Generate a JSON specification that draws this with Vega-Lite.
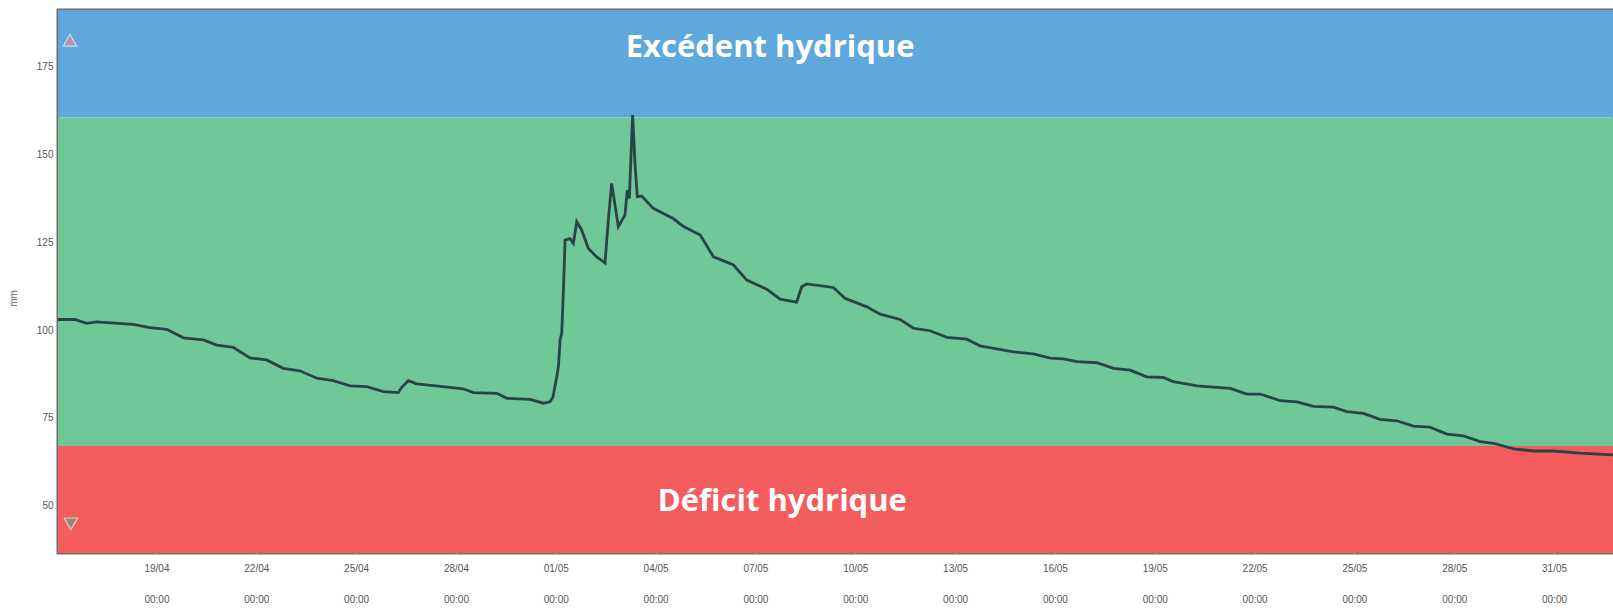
{
  "$schema": "https://vega.github.io/schema/vega-lite/v6.json",
  "autosize": "none",
  "width": 1555,
  "height": 543,
  "padding": {"left": 58, "top": 10, "right": 0, "bottom": 55},
  "background": "white",
  "config": {
    "view": {"stroke": "#6e6e6e", "strokeWidth": 3},
    "axis": {"labelFont": "Liberation Sans", "labelFontSize": 10, "labelColor": "#555555", "domain": false, "ticks": false, "grid": true, "gridColor": "white", "gridOpacity": 0.55, "gridWidth": 2}
  },
  "datasets": {
    "bands": [
      {"zone": "excedent", "low": 160.5, "high": 191, "start": "2016-04-16T01:00", "end": "2016-06-01T18:30"},
      {"zone": "normal", "low": 67, "high": 160.5, "start": "2016-04-16T01:00", "end": "2016-06-01T18:30"},
      {"zone": "deficit", "low": 36.6, "high": 67, "start": "2016-04-16T01:00", "end": "2016-06-01T18:30"}
    ],
    "series": [
      {"t": "2016-04-16T01:00", "mm": 103.0},
      {"t": "2016-04-16T03:36", "mm": 103.0},
      {"t": "2016-04-16T13:12", "mm": 103.0},
      {"t": "2016-04-16T21:36", "mm": 101.9},
      {"t": "2016-04-17T04:48", "mm": 102.3},
      {"t": "2016-04-18T07:12", "mm": 101.6},
      {"t": "2016-04-18T19:12", "mm": 100.7},
      {"t": "2016-04-19T07:26", "mm": 100.2},
      {"t": "2016-04-19T19:26", "mm": 97.8},
      {"t": "2016-04-20T09:50", "mm": 97.2},
      {"t": "2016-04-20T19:26", "mm": 95.7},
      {"t": "2016-04-21T07:26", "mm": 95.1},
      {"t": "2016-04-21T19:26", "mm": 92.1},
      {"t": "2016-04-22T07:26", "mm": 91.5},
      {"t": "2016-04-22T19:26", "mm": 89.1},
      {"t": "2016-04-23T07:26", "mm": 88.4},
      {"t": "2016-04-23T19:40", "mm": 86.3},
      {"t": "2016-04-24T07:40", "mm": 85.6},
      {"t": "2016-04-24T19:40", "mm": 84.1},
      {"t": "2016-04-25T07:40", "mm": 83.9},
      {"t": "2016-04-25T19:40", "mm": 82.5},
      {"t": "2016-04-26T06:29", "mm": 82.2},
      {"t": "2016-04-26T08:53", "mm": 83.7},
      {"t": "2016-04-26T13:40", "mm": 85.6},
      {"t": "2016-04-26T19:40", "mm": 84.7},
      {"t": "2016-04-27T07:40", "mm": 84.2},
      {"t": "2016-04-28T05:17", "mm": 83.3},
      {"t": "2016-04-28T12:29", "mm": 82.2},
      {"t": "2016-04-29T05:31", "mm": 82.0},
      {"t": "2016-04-29T12:43", "mm": 80.6},
      {"t": "2016-04-30T05:31", "mm": 80.3},
      {"t": "2016-04-30T15:07", "mm": 79.2},
      {"t": "2016-04-30T19:55", "mm": 79.6},
      {"t": "2016-04-30T22:00", "mm": 81.0},
      {"t": "2016-05-01T00:43", "mm": 86.7},
      {"t": "2016-05-01T01:55", "mm": 89.6},
      {"t": "2016-05-01T03:07", "mm": 97.2},
      {"t": "2016-05-01T04:19", "mm": 99.1},
      {"t": "2016-05-01T05:31", "mm": 111.4},
      {"t": "2016-05-01T06:43", "mm": 125.6},
      {"t": "2016-05-01T10:19", "mm": 126.0},
      {"t": "2016-05-01T12:43", "mm": 124.6},
      {"t": "2016-05-01T15:07", "mm": 130.8},
      {"t": "2016-05-01T18:43", "mm": 128.4},
      {"t": "2016-05-01T23:31", "mm": 123.2},
      {"t": "2016-05-02T05:31", "mm": 120.8},
      {"t": "2016-05-02T11:31", "mm": 119.1},
      {"t": "2016-05-02T13:55", "mm": 131.3},
      {"t": "2016-05-02T16:19", "mm": 141.7},
      {"t": "2016-05-02T21:07", "mm": 129.4},
      {"t": "2016-05-03T01:55", "mm": 132.7},
      {"t": "2016-05-03T03:36", "mm": 139.8},
      {"t": "2016-05-03T05:02", "mm": 137.4},
      {"t": "2016-05-03T07:26", "mm": 161.1},
      {"t": "2016-05-03T09:07", "mm": 147.4},
      {"t": "2016-05-03T10:48", "mm": 137.9},
      {"t": "2016-05-03T13:55", "mm": 138.1},
      {"t": "2016-05-03T22:19", "mm": 134.6},
      {"t": "2016-05-04T12:43", "mm": 131.7},
      {"t": "2016-05-04T19:55", "mm": 129.5},
      {"t": "2016-05-05T08:10", "mm": 127.0},
      {"t": "2016-05-05T17:46", "mm": 120.8},
      {"t": "2016-05-06T08:10", "mm": 118.5},
      {"t": "2016-05-06T17:46", "mm": 114.2},
      {"t": "2016-05-07T08:10", "mm": 111.6},
      {"t": "2016-05-07T17:46", "mm": 108.8},
      {"t": "2016-05-08T05:46", "mm": 107.9},
      {"t": "2016-05-08T09:22", "mm": 112.3},
      {"t": "2016-05-08T12:58", "mm": 113.1},
      {"t": "2016-05-09T08:10", "mm": 112.1},
      {"t": "2016-05-09T16:34", "mm": 109.0},
      {"t": "2016-05-10T08:24", "mm": 106.6},
      {"t": "2016-05-10T18:00", "mm": 104.5},
      {"t": "2016-05-11T08:24", "mm": 103.0},
      {"t": "2016-05-11T18:00", "mm": 100.5},
      {"t": "2016-05-12T06:00", "mm": 99.8},
      {"t": "2016-05-12T18:00", "mm": 97.9},
      {"t": "2016-05-13T08:24", "mm": 97.4},
      {"t": "2016-05-13T18:00", "mm": 95.5},
      {"t": "2016-05-14T18:00", "mm": 93.8},
      {"t": "2016-05-15T08:24", "mm": 93.2},
      {"t": "2016-05-15T20:38", "mm": 92.0},
      {"t": "2016-05-16T06:14", "mm": 91.8},
      {"t": "2016-05-16T15:50", "mm": 91.0},
      {"t": "2016-05-17T06:14", "mm": 90.7},
      {"t": "2016-05-17T18:14", "mm": 89.1},
      {"t": "2016-05-18T06:14", "mm": 88.6},
      {"t": "2016-05-18T18:14", "mm": 86.7},
      {"t": "2016-05-19T06:14", "mm": 86.5},
      {"t": "2016-05-19T13:26", "mm": 85.3},
      {"t": "2016-05-20T06:29", "mm": 84.1},
      {"t": "2016-05-21T06:29", "mm": 83.4},
      {"t": "2016-05-21T18:29", "mm": 81.8},
      {"t": "2016-05-22T04:05", "mm": 81.8},
      {"t": "2016-05-22T18:29", "mm": 79.9},
      {"t": "2016-05-23T06:29", "mm": 79.6},
      {"t": "2016-05-23T18:29", "mm": 78.3},
      {"t": "2016-05-24T08:53", "mm": 78.1},
      {"t": "2016-05-24T18:29", "mm": 76.8},
      {"t": "2016-05-25T06:29", "mm": 76.3},
      {"t": "2016-05-25T18:29", "mm": 74.6},
      {"t": "2016-05-26T06:29", "mm": 74.2},
      {"t": "2016-05-26T18:29", "mm": 72.7},
      {"t": "2016-05-27T06:29", "mm": 72.4},
      {"t": "2016-05-27T18:43", "mm": 70.4},
      {"t": "2016-05-28T06:43", "mm": 69.9},
      {"t": "2016-05-28T18:43", "mm": 68.3},
      {"t": "2016-05-29T04:19", "mm": 67.8},
      {"t": "2016-05-29T18:43", "mm": 66.2},
      {"t": "2016-05-30T09:07", "mm": 65.6},
      {"t": "2016-05-30T23:31", "mm": 65.6},
      {"t": "2016-05-31T18:43", "mm": 65.0},
      {"t": "2016-06-01T18:29", "mm": 64.5}
    ],
    "labels": [
      {"t": "2016-05-07T10:34", "mm": 177.6, "label": "Excédent hydrique"},
      {"t": "2016-05-07T19:26", "mm": 48.6, "label": "Déficit hydrique"}
    ],
    "arrows": [
      {"t": "2016-04-16T09:36", "mm": 182.4, "dir": "up"},
      {"t": "2016-04-16T10:19", "mm": 44.9, "dir": "down"}
    ]
  },
  "layer": [
    {
      "data": {"name": "bands"},
      "mark": {"type": "rect"},
      "encoding": {
        "x": {"field": "start", "type": "temporal", "scale": {"domain": [{"year": 2016, "month": 4, "date": 16, "hours": 1}, {"year": 2016, "month": 6, "date": 1, "hours": 18, "minutes": 30}], "nice": false},
          "axis": {"title": null,
            "values": [
              {"year": 2016, "month": 4, "date": 19}, {"year": 2016, "month": 4, "date": 22}, {"year": 2016, "month": 4, "date": 25}, {"year": 2016, "month": 4, "date": 28},
              {"year": 2016, "month": 5, "date": 1}, {"year": 2016, "month": 5, "date": 4}, {"year": 2016, "month": 5, "date": 7}, {"year": 2016, "month": 5, "date": 10},
              {"year": 2016, "month": 5, "date": 13}, {"year": 2016, "month": 5, "date": 16}, {"year": 2016, "month": 5, "date": 19}, {"year": 2016, "month": 5, "date": 22},
              {"year": 2016, "month": 5, "date": 25}, {"year": 2016, "month": 5, "date": 28}, {"year": 2016, "month": 5, "date": 31}
            ],
            "labelExpr": "[timeFormat(datum.value, '%d/%m'), timeFormat(datum.value, '%H:%M')]", "labelLineHeight": 31, "labelPadding": 10, "labelBaseline": "top"}},
        "x2": {"field": "end"},
        "y": {"field": "low", "type": "quantitative", "scale": {"domain": [36.6, 191], "nice": false, "zero": false},
          "axis": {"title": "mm", "values": [50, 75, 100, 125, 150, 175], "labelPadding": 5, "titleFont": "Liberation Sans", "titleFontSize": 10, "titleFontWeight": "normal", "titleColor": "#666666", "titleX": -40, "titleY": 288}},
        "y2": {"field": "high"},
        "fill": {"field": "zone", "type": "nominal", "scale": {"domain": ["excedent", "normal", "deficit"], "range": ["#5ea8dc", "#70c797", "#f35d5d"]}, "legend": null}
      }
    },
    {
      "data": {"name": "series"},
      "mark": {"type": "line", "color": "#2a4349", "strokeWidth": 2.8, "clip": true, "interpolate": "linear"},
      "encoding": {
        "x": {"field": "t", "type": "temporal"},
        "y": {"field": "mm", "type": "quantitative"}
      }
    },
    {
      "data": {"name": "arrows"},
      "mark": {"type": "point", "filled": true, "size": 180, "stroke": "#eeeeee", "strokeWidth": 1.2, "opacity": 0.75},
      "encoding": {
        "x": {"field": "t", "type": "temporal"},
        "y": {"field": "mm", "type": "quantitative"},
        "shape": {"field": "dir", "type": "nominal", "scale": {"domain": ["up", "down"], "range": ["triangle-up", "triangle-down"]}, "legend": null},
        "color": {"field": "dir", "type": "nominal", "scale": {"domain": ["up", "down"], "range": ["#c9909b", "#6c9a86"]}, "legend": null}
      }
    },
    {
      "data": {"name": "labels"},
      "mark": {"type": "text", "font": "Open Sans", "fontWeight": "bold", "fontSize": 31, "color": "white", "align": "center", "baseline": "alphabetic"},
      "encoding": {
        "x": {"field": "t", "type": "temporal"},
        "y": {"field": "mm", "type": "quantitative"},
        "text": {"field": "label"}
      }
    }
  ]
}
